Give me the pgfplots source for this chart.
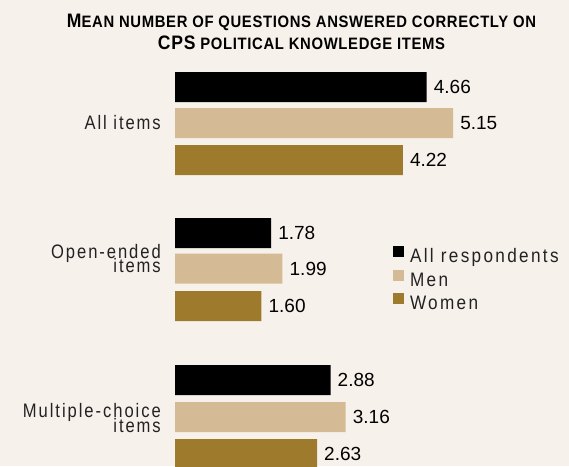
\documentclass[border=0pt]{standalone}
\usepackage{pgfplots}
\pgfplotsset{compat=1.18}
\usepackage{fontspec}
\setmainfont{Liberation Sans}
\newfontfamily\labfont[FakeStretch=0.85,LetterSpace=10]{Liberation Sans}
\newfontfamily\legfont[FakeStretch=0.88,LetterSpace=12]{Liberation Sans}
\newfontfamily\numfont{Liberation Sans}
\newfontfamily\titlefont[FakeStretch=0.9,LetterSpace=4]{Liberation Sans}
\definecolor{bgc}{HTML}{F7F1EB}
\definecolor{tanc}{HTML}{D4BB96}
\definecolor{brownc}{HTML}{9E7A2C}
\definecolor{txt}{HTML}{222222}
\newcommand\BIG[1]{{\fontsize{19.5}{20}\selectfont #1}}
\newcommand\SMC[1]{{\fontsize{16.5}{17}\selectfont #1}}
\begin{document}
\begin{tikzpicture}
\begin{axis}[
  width=569pt, height=466pt, scale only axis,
  xmin=-3.24074, xmax=7.29630, ymin=0, ymax=466, y dir=reverse,
  axis line style={draw=none}, xtick=\empty, ytick=\empty,
  axis background/.style={fill=bgc},
  xbar, bar width=30pt, bar shift=0pt,
  /pgf/number format/assume math mode=true,
  point meta=x,
  nodes near coords={\pgfmathprintnumber[fixed,fixed zerofill,precision=2]{\pgfplotspointmeta}},
  nodes near coords style={font=\numfont\fontsize{19}{19}\selectfont, text=black, anchor=west, inner sep=0pt, xshift=7pt},
  legend style={at={(axis cs:4.037,245.7)}, anchor=north west, draw=none, fill=none,
    inner sep=0pt, outer sep=0pt, row sep=0pt,
    font=\legfont\fontsize{19.5}{19.5}\selectfont, text=txt,
    nodes={inner sep=0pt, text height=15pt, text depth=7.2pt},
    /tikz/every odd column/.append style={column sep=6pt}},
  legend cell align=left,
  legend image code/.code={\fill[#1] (0pt,1.7pt) rectangle (11pt,12.7pt);},
]
\addplot[fill=black, draw=none] coordinates {(4.66,87) (1.78,233) (2.88,380)};
\addlegendentry{All respondents}
\addplot[fill=tanc, draw=none] coordinates {(5.15,123) (1.99,268.5) (3.16,417)};
\addlegendentry{Men}
\addplot[fill=brownc, draw=none] coordinates {(4.22,160) (1.60,306) (2.63,454)};
\addlegendentry{Women}

\begin{scope}[every node/.style={anchor=base east, inner sep=0pt, text=txt, font=\labfont\fontsize{19.5}{19.5}\selectfont}]
\node at (axis cs:-0.2593,129) {All items};
\node at (axis cs:-0.2593,258.5) {Open-ended};
\node at (axis cs:-0.2593,272.5) {items};
\node at (axis cs:-0.2593,417.5) {Multiple-choice};
\node at (axis cs:-0.2593,432) {items};
\end{scope}

\begin{scope}[every node/.style={anchor=base, inner sep=0pt, text=black, font=\titlefont\bfseries}]
\node at (axis cs:2.3426,27) {\BIG{M}\SMC{EAN NUMBER OF QUESTIONS ANSWERED CORRECTLY ON}};
\node at (axis cs:2.3426,49.5) {\BIG{CPS}\SMC{\ POLITICAL KNOWLEDGE ITEMS}};
\end{scope}
\end{axis}
\end{tikzpicture}
\end{document}
